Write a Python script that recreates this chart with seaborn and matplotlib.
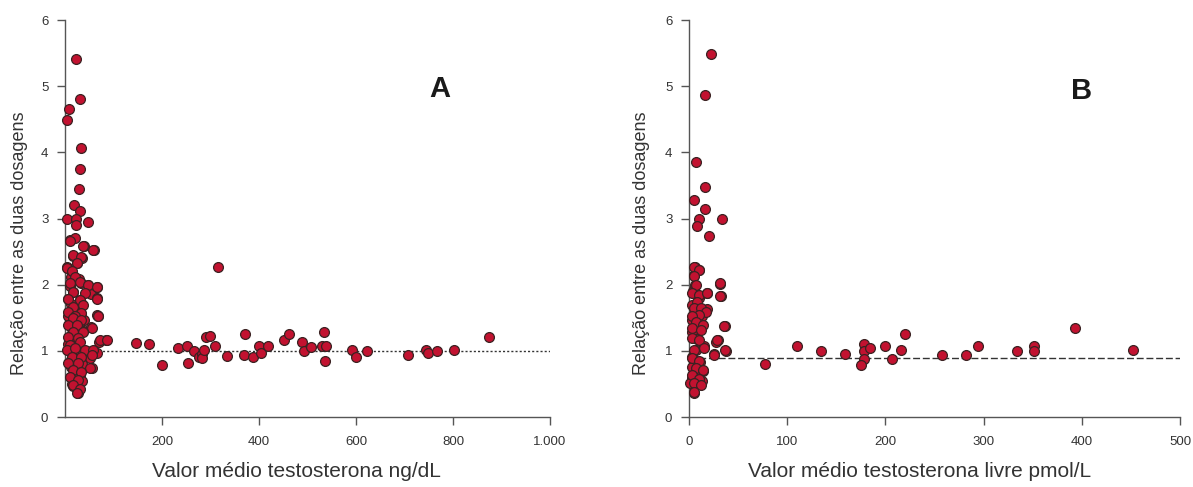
import matplotlib
matplotlib.use("Agg")
import matplotlib.pyplot as plt
import seaborn as sns
import numpy as np
import pandas as pd

# ---------------- data ----------------
# Panel A: total testosterone ng/dL vs ratio
a_x = [22, 8, 5, 31, 32, 31, 29, 19, 31, 5, 23, 23, 47, 11, 21, 39, 60, 17, 36, 25,
       5, 12, 29, 32, 10, 48, 67, 17, 53, 65, 7, 31, 33, 12, 67, 34, 24, 7, 39, 18,
       53, 31, 14, 37, 70, 85, 6, 24, 31, 45, 65, 52, 12, 28, 36, 55, 13, 21, 31, 14,
       17, 36, 17, 27, 14,
       10, 38, 58, 17, 34, 4, 24, 14, 21, 10, 31, 48, 65, 17, 41, 7, 31, 65, 17, 38,
       7, 34, 21, 69,
       17, 34, 69, 7, 24, 55, 17, 38, 7, 27, 72, 86, 10, 31, 4, 21, 41, 58, 55, 14,
       34, 7, 27, 52, 17, 34, 10, 27, 17, 31, 24,
       146, 173, 200, 316, 232, 251, 254, 266, 276, 282, 282, 287, 290, 299, 309, 333,
       370, 372, 387, 401, 404, 419, 452, 462, 488, 493, 507, 529, 538, 534, 537, 592,
       601, 622, 708, 744, 749, 766, 802, 875]
a_y = [5.41, 4.65, 4.49, 4.80, 4.06, 3.75, 3.44, 3.21, 3.12, 2.99, 2.99, 2.90, 2.95, 2.67,
       2.71, 2.58, 2.52, 2.44, 2.41, 2.32, 2.26, 2.12, 2.09, 2.03, 1.98, 1.99, 1.97, 1.89,
       1.86, 1.80, 1.79, 1.77, 1.73, 1.71, 1.54, 1.55, 1.57, 1.52, 1.47, 1.45, 1.36, 1.34,
       1.33, 1.30, 1.14, 1.16, 1.10, 1.15, 1.00, 1.00, 0.96, 0.89, 0.86, 0.82, 0.80, 0.74,
       0.76, 0.68, 0.63, 0.59, 0.60, 0.55, 0.47, 0.36, 0.50,
       2.66, 2.58, 2.52, 2.45, 2.42, 2.25, 2.32, 2.20, 2.12, 2.02, 2.04, 1.99, 1.97, 1.89,
       1.87, 1.79, 1.77, 1.79, 1.67, 1.69, 1.59, 1.57, 1.52, 1.53,
       1.49, 1.47, 1.52, 1.39, 1.39, 1.35, 1.29, 1.29, 1.21, 1.19, 1.16, 1.16, 1.09, 1.14,
       1.01, 1.04, 1.01, 1.01, 0.94, 0.91, 0.91, 0.81, 0.81, 0.74, 0.71, 0.68, 0.61, 0.56,
       0.48, 0.43, 0.36,
       1.12, 1.10, 0.79, 2.27, 1.04, 1.07, 0.81, 1.00, 0.91, 0.95, 0.89, 1.01, 1.21, 1.22,
       1.07, 0.92, 0.94, 1.25, 0.91, 1.07, 0.96, 1.08, 1.16, 1.25, 1.13, 0.99, 1.06, 1.07,
       1.08, 1.28, 0.85, 1.01, 0.90, 0.99, 0.93, 1.01, 0.96, 1.00, 1.01, 1.21]

# Panel B: free testosterone pmol/L vs ratio
b_x = [22, 16, 7, 16, 5, 16, 10, 8, 34, 20, 6, 10, 5, 6, 32, 4, 18, 33, 10, 3,
       8, 18, 13, 3, 8, 37, 11, 3, 8, 30, 28, 15, 7, 38, 25, 3, 11, 3, 14, 8,
       3, 13, 6, 5, 1,
       5, 10, 5, 7, 32, 3, 10, 18, 32, 8, 5, 12, 17, 10, 3, 7, 14, 36,
       3, 12, 3, 10, 29, 5, 15, 37, 25, 3, 10, 7, 14, 3, 10, 5, 12, 5,
       77, 110, 134, 159, 178, 178, 178, 175, 184, 200, 207, 216, 220, 258, 282, 294,
       334, 351, 351, 393, 452]
b_y = [5.48, 4.87, 3.86, 3.48, 3.28, 3.15, 3.00, 2.89, 2.99, 2.73, 2.27, 2.22, 2.15, 2.00,
       2.01, 1.90, 1.87, 1.83, 1.80, 1.69, 1.63, 1.63, 1.53, 1.46, 1.48, 1.37, 1.35, 1.28,
       1.18, 1.17, 1.14, 1.08, 1.02, 1.00, 0.95, 0.91, 0.83, 0.75, 0.70, 0.64, 0.59, 0.54,
       0.51, 0.37, 0.52,
       2.27, 2.22, 2.13, 1.99, 2.02, 1.87, 1.84, 1.88, 1.83, 1.74, 1.64, 1.64, 1.59, 1.54,
       1.52, 1.44, 1.39, 1.37,
       1.34, 1.31, 1.19, 1.16, 1.16, 1.01, 1.04, 1.01, 0.94, 0.89, 0.84, 0.74, 0.71, 0.63,
       0.58, 0.51, 0.48, 0.38,
       0.80, 1.08, 1.00, 0.95, 1.11, 1.00, 0.88, 0.78, 1.05, 1.08, 0.88, 1.01, 1.25, 0.94,
       0.93, 1.08, 0.99, 1.08, 1.00, 1.34, 1.01]

a_ref = 1.0
b_ref = 0.89

a_ticks = [200, 400, 600, 800, 1000]
a_ticklabels = ["200", "400", "600", "800", "1.000"]
b_ticks = [0, 100, 200, 300, 400, 500]
b_ticklabels = ["0", "100", "200", "300", "400", "500"]
y_ticks = [0, 1, 2, 3, 4, 5, 6]

ylabel = "Relação entre as duas dosagens"
a_xlabel = "Valor médio testosterona ng/dL"
b_xlabel = "Valor médio testosterona livre pmol/L"

df_a = pd.DataFrame({"x": a_x, "y": a_y})
df_b = pd.DataFrame({"x": b_x, "y": b_y})

# ---------------- style ----------------
sns.set_style("ticks")
plt.rcParams["font.family"] = ["Liberation Sans", "DejaVu Sans"]

fig = plt.figure(figsize=(11.93, 4.87), dpi=100)
W, H = 1193, 487
ax_a = fig.add_axes([65 / W, (H - 417) / H, 485 / W, 397 / H])
ax_b = fig.add_axes([689 / W, (H - 417) / H, 491 / W, 397 / H])

face = "#c21230"
edge = "#3a2222"
axis_col = "#555555"
text_col = "#333333"

def style(ax, df, xmax, ticks, ticklabels, xlabel, ref, ls, letter, lx, ly,
          xl_x, yl_x):
    ax.axhline(ref, color="#333333", lw=1.0, ls=ls, zorder=1)
    sns.scatterplot(data=df, x="x", y="y", ax=ax, color=face, edgecolor=edge,
                    linewidth=0.9, s=50, zorder=3, clip_on=False, legend=False)
    ax.set_xlim(0, xmax)
    ax.set_ylim(0, 6)
    ax.set_xticks(ticks)
    ax.set_xticklabels(ticklabels)
    ax.set_yticks(y_ticks)
    ax.tick_params(axis="both", direction="out", length=6, width=1.0,
                   colors=axis_col, labelcolor=text_col, labelsize=9.5, pad=6)
    ax.tick_params(axis="x", pad=8)
    for sp in ["top", "right"]:
        ax.spines[sp].set_visible(False)
    for sp in ["left", "bottom"]:
        ax.spines[sp].set_color(axis_col)
        ax.spines[sp].set_linewidth(1.0)
    ax.set_xlabel(xlabel, fontsize=15, color=text_col, va="center")
    ax.set_ylabel(ylabel, fontsize=13, color=text_col, va="center")
    ax.xaxis.set_label_coords(xl_x, -0.138)
    ax.yaxis.set_label_coords(yl_x, 0.438)
    ax.text(lx, ly, letter, fontsize=21, fontweight="bold", color="#1a1a1a",
            ha="center", va="center")

style(ax_a, df_a, 1000, a_ticks, a_ticklabels, a_xlabel, a_ref, (0, (1.5, 1.5)),
      "A", 773, 4.96, 0.478, -0.094)
style(ax_b, df_b, 500, b_ticks, b_ticklabels, b_xlabel, b_ref, (0, (5, 2)),
      "B", 400, 4.92, 0.470, -0.097)

fig.savefig("out.png", dpi=100)
